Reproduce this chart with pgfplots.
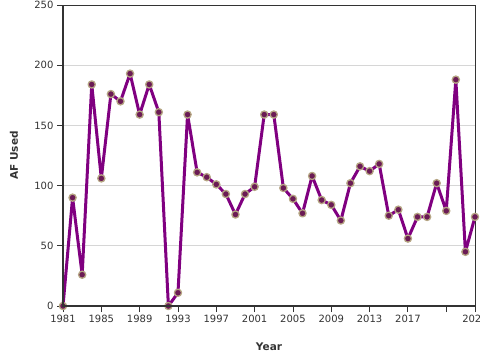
\documentclass[border=0pt]{standalone}
\usepackage{fontspec}
\setmainfont{DejaVu Sans}
\usepackage{pgfplots}
\pgfplotsset{compat=1.18}
\definecolor{linepurple}{HTML}{800080}
\definecolor{markfill}{HTML}{6B1B55}
\definecolor{markedge}{HTML}{B5A583}
\definecolor{axisdark}{HTML}{333333}
\definecolor{gridgrey}{HTML}{D6D6D6}
\pgfplotstableread{
year val
1981 0
1982 90
1983 26
1984 184
1985 106
1986 176
1987 170
1988 193
1989 159
1990 184
1991 161
1992 0
1993 11
1994 159
1995 111
1996 107
1997 101
1998 93
1999 76
2000 93
2001 99
2002 159
2003 159
2004 98
2005 89
2006 77
2007 108
2008 88
2009 84
2010 71
2011 102
2012 116
2013 112
2014 118
2015 75
2016 80
2017 56
2018 74
2019 74
2020 102
2021 79
2022 188
2023 45
2024 74
}\afdata
\begin{document}
\begin{tikzpicture}
\begin{axis}[
  at={(63pt,54pt)}, anchor=south west,
  width=412pt, height=301pt, scale only axis,
  xmin=1981, xmax=2024, ymin=0, ymax=250,
  xtick={1981,1985,1989,1993,1997,2001,2005,2009,2013,2017,2021,2024},
  xticklabels={1981,1985,1989,1993,1997,2001,2005,2009,2013,2017,,2024},
  ytick={0,50,100,150,200,250},
  ymajorgrids, grid style={gridgrey, line width=0.8pt},
  axis line style={axisdark, line width=0.9pt},
  tick style={axisdark, line width=0.9pt},
  tick align=outside, major tick length=6pt,
  tick pos=left,
  ticklabel style={font=\fontsize{10}{12}\selectfont, text=axisdark},
  /pgf/number format/assume math mode=true,
  /pgf/number format/1000 sep={},
  xlabel={\textbf{Year}},
  ylabel={\textbf{AF Used}},
  label style={font=\fontsize{10.5}{12}\selectfont, text=axisdark},
  xlabel style={at={(axis description cs:0.5,-0.136)}, anchor=center},
  ylabel style={at={(axis description cs:-0.119,0.5)}, anchor=center},
  clip=false,
  after end axis/.code={
    \draw[axisdark, line width=2.4pt] (rel axis cs:0,1) -- (rel axis cs:0,0) -- (rel axis cs:1,0);
  },
]
\addplot[linepurple, line width=3pt, line join=round,
  mark=*, mark size=3.6pt,
  mark options={fill=markfill, draw=markedge, line width=1.3pt}]
  table[x=year, y=val] {\afdata};
\end{axis}
\pgfresetboundingbox
\path (0pt,0pt) rectangle (480pt,360pt);
\end{tikzpicture}
\end{document}
